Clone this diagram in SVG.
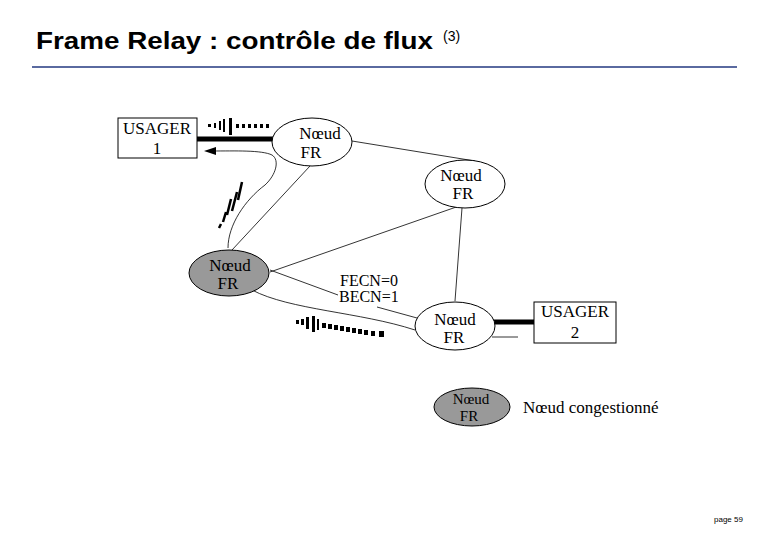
<svg xmlns="http://www.w3.org/2000/svg" width="780" height="540" viewBox="0 0 780 540">
<style>
.n{fill:#fff;stroke:#000;stroke-width:1}
.c{fill:#999;stroke:#000;stroke-width:1}
.t{font-family:"Liberation Serif",serif;font-size:17px;text-anchor:middle}
.s{font-family:"Liberation Serif",serif;font-size:15px;text-anchor:middle}
.l{fill:none;stroke:#000;stroke-width:0.8}
.k{fill:none;stroke:#000;stroke-width:5}
</style>
<rect width="780" height="540" fill="#fff"/>
<text x="36" y="49" font-family="Liberation Sans,sans-serif" font-size="23" font-weight="bold" textLength="397" lengthAdjust="spacingAndGlyphs">Frame Relay : contrôle de flux</text>
<text x="443" y="41" font-family="Liberation Sans,sans-serif" font-size="14">(3)</text>
<line x1="32" y1="67" x2="737" y2="67" stroke="#5a6aa0" stroke-width="2"/>
<g id="connectors">
<path class="k" d="M197 139H273"/>
<path class="l" d="M228 248C228 225 245 200 265 185C276 175 280 160 272 155C262 150 235 151 212 151"/>
<polygon points="204,151 216,147 216,155"/>
<path class="l" d="M310 166L232 250"/>
<path class="l" d="M352 141L475 161"/>
<path class="l" d="M462 208L455 301"/>
<path class="l" d="M462 205L270 272"/>
<path class="l" d="M270 270L338 295M377 307L417 318"/>
<path class="l" d="M252 290C290 310 360 312 415 330"/>
<path class="k" d="M492 322H534"/>
<path class="l" d="M492 337H518"/>
<g fill="#000">
<rect x="208" y="124" width="3" height="3"/><rect x="214" y="123" width="2" height="5"/><rect x="219" y="121" width="2" height="9"/><rect x="223" y="119" width="2" height="13"/><rect x="229" y="118" width="3" height="17"/>
<rect x="236" y="124" width="3" height="4"/><rect x="242" y="124" width="3" height="4"/><rect x="248" y="124" width="3" height="4"/><rect x="254" y="124" width="3" height="4"/><rect x="260" y="124" width="3" height="4"/><rect x="266" y="124" width="3" height="4"/>
</g>
<g stroke="#000" stroke-width="2.5">
<path d="M219 228L221 224M223 222L226 212M227 215L231 199M232 211L237 192M238 200L242 182"/>
</g>
<g fill="#000">
<rect x="296" y="320" width="3" height="4"/><rect x="301" y="319" width="3" height="6"/><rect x="306" y="317" width="3" height="12"/><rect x="312" y="316" width="3" height="16"/><rect x="317" y="319" width="2" height="11"/>
<rect x="322" y="323" width="4" height="5"/><rect x="328" y="324" width="4" height="5"/><rect x="334" y="325" width="4" height="5"/><rect x="340" y="326" width="4" height="5"/><rect x="346" y="327" width="4" height="5"/><rect x="352" y="328" width="4" height="5"/><rect x="358" y="329" width="4" height="5"/><rect x="364" y="330" width="4" height="5"/><rect x="371" y="331" width="4" height="5"/><rect x="379" y="331" width="5" height="6"/>
</g>
</g>
<g id="usager1"><rect class="n" x="118" y="118" width="79" height="40"/><text class="t" x="157" y="134">USAGER</text><text class="t" x="157" y="154">1</text></g>
<g id="node1"><ellipse class="n" cx="312" cy="142" rx="40" ry="24"/><text class="t" x="320" y="139">Nœud</text><text class="t" x="311" y="158">FR</text></g>
<g id="node2"><ellipse class="n" cx="465" cy="184" rx="40" ry="24"/><text class="t" x="461" y="181">Nœud</text><text class="t" x="463" y="199">FR</text></g>
<g id="node3"><ellipse class="c" cx="229" cy="273" rx="40" ry="23"/><text class="t" x="230" y="271">Nœud</text><text class="t" x="228" y="289">FR</text></g>
<g id="node4"><ellipse class="n" cx="455" cy="326" rx="40" ry="24"/><text class="t" x="455" y="325">Nœud</text><text class="t" x="454" y="343">FR</text></g>
<g id="usager2"><rect class="n" x="534" y="302" width="82" height="41"/><text class="t" x="575" y="317">USAGER</text><text class="t" x="575" y="338">2</text></g>
<g id="label"><text x="340" y="286" font-family="Liberation Serif,serif" font-size="16">FECN=0</text><text x="339" y="302" font-family="Liberation Serif,serif" font-size="16">BECN=1</text></g>
<g id="legend"><ellipse class="c" cx="472" cy="407" rx="38" ry="19"/><text class="s" x="471" y="404">Nœud</text><text class="s" x="469" y="421">FR</text><text x="523" y="413" font-family="Liberation Serif,serif" font-size="17">Nœud congestionné</text></g>
<text x="714" y="522" font-family="Liberation Sans,sans-serif" font-size="8">page 59</text>
</svg>
